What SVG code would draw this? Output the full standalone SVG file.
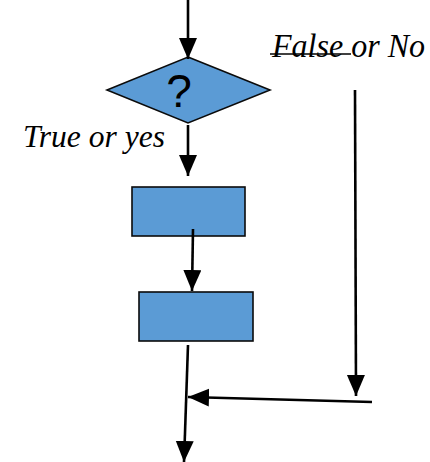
<svg xmlns="http://www.w3.org/2000/svg" width="430" height="462" viewBox="0 0 430 462">
  <style>
    .shape { fill: #5B9BD5; stroke: #0b0b0b; stroke-width: 1.6; }
    .conn { stroke: #000; stroke-width: 2.6; fill: none; marker-end: url(#head); }
    .lbl { font-family: "Liberation Serif", "Times New Roman", serif; font-style: italic; fill: #000; }
    .q { font-family: "Liberation Sans", Arial, sans-serif; font-size: 46px; fill: #000; }
  </style>
  <defs>
    <marker id="head" markerUnits="userSpaceOnUse" markerWidth="22" markerHeight="22" refX="21" refY="9" orient="auto">
      <path d="M0,0 L21,9 L0,18 Z" fill="#000"/>
    </marker>
  </defs>

  <rect width="430" height="462" fill="#fff"/>

  <g id="decision">
    <polygon class="shape" points="188,57 270,90 188,123 107,90"/>
    <text class="q" x="179" y="107" text-anchor="middle">?</text>
  </g>

  <g id="step1">
    <rect class="shape" x="132" y="187" width="113" height="49"/>
  </g>

  <g id="step2">
    <rect class="shape" x="139" y="292" width="114" height="49"/>
  </g>

  <g id="label-true">
    <text class="lbl" x="23" y="147" font-size="32" textLength="142" lengthAdjust="spacingAndGlyphs">True or yes</text>
  </g>

  <g id="label-false">
    <text class="lbl" x="272" y="57" font-size="33" textLength="153" lengthAdjust="spacingAndGlyphs">False or No</text>
    <line x1="270" y1="54" x2="351" y2="54" stroke="#000" stroke-width="1.6"/>
  </g>

  <g id="connectors">
    <line class="conn" x1="188" y1="0" x2="188" y2="59"/>
    <line class="conn" x1="188" y1="125" x2="188" y2="176"/>
    <line class="conn" x1="193" y1="229" x2="192" y2="291"/>
    <line class="conn" x1="355" y1="90" x2="356" y2="396"/>
    <line class="conn" x1="372" y1="402" x2="188" y2="397"/>
    <line class="conn" x1="188" y1="345" x2="184" y2="462"/>
  </g>
</svg>
